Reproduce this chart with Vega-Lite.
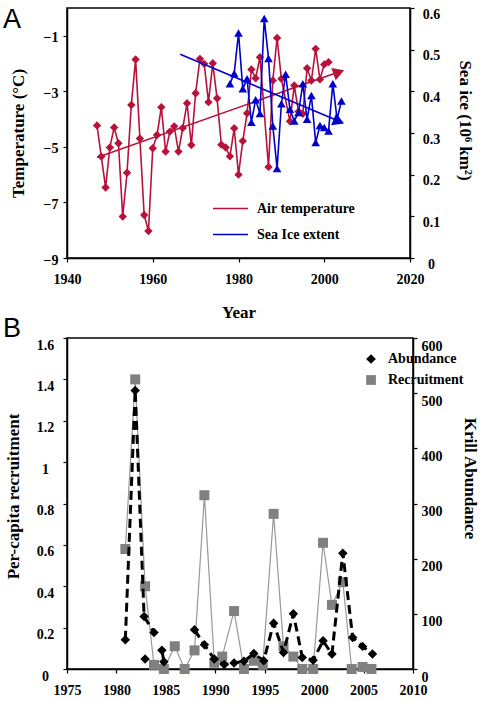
{
  "$schema": "https://vega.github.io/schema/vega-lite/v6.json",
  "padding": {"left": 2, "top": 5, "right": 0, "bottom": 0},
  "background": "white",
  "bounds": "flush",
  "spacing": 80,
  "resolve": {"scale": {"color": "independent", "shape": "independent"}, "legend": {"color": "independent", "shape": "independent"}},
  "config": {
    "view": {"stroke": "black", "strokeWidth": 1.5},
    "font": "Liberation Serif",
    "axis": {
      "labelFont": "Liberation Serif", "labelFontWeight": "bold", "labelFontSize": 14, "labelColor": "black",
      "titleFont": "Liberation Serif", "titleFontWeight": "bold", "titleFontSize": 17, "titleColor": "black",
      "domainColor": "black", "domainWidth": 1.5, "tickColor": "black", "tickWidth": 1.2, "tickSize": 4,
      "grid": false, "labelOverlap": false, "labelBound": false, "labelFlush": false
    },
    "legend": {
      "labelFont": "Liberation Serif", "labelFontWeight": "bold", "labelFontSize": 14, "labelColor": "black",
      "padding": 0
    }
  },
  "datasets": {
    "temp": [
      {"year": 1947, "temp": -4.23}, {"year": 1948, "temp": -5.35}, {"year": 1949, "temp": -6.46},
      {"year": 1950, "temp": -5.02}, {"year": 1951, "temp": -4.30}, {"year": 1952, "temp": -4.87},
      {"year": 1953, "temp": -7.51}, {"year": 1954, "temp": -5.93}, {"year": 1955, "temp": -3.49},
      {"year": 1956, "temp": -1.85}, {"year": 1957, "temp": -4.70}, {"year": 1958, "temp": -7.45},
      {"year": 1959, "temp": -8.03}, {"year": 1960, "temp": -5.05}, {"year": 1961, "temp": -4.57},
      {"year": 1962, "temp": -3.57}, {"year": 1963, "temp": -5.17}, {"year": 1964, "temp": -4.45},
      {"year": 1965, "temp": -4.26}, {"year": 1966, "temp": -5.17}, {"year": 1967, "temp": -4.32},
      {"year": 1968, "temp": -3.43}, {"year": 1969, "temp": -4.93}, {"year": 1970, "temp": -3.07},
      {"year": 1971, "temp": -1.83}, {"year": 1972, "temp": -2.01}, {"year": 1973, "temp": -3.39},
      {"year": 1974, "temp": -1.99}, {"year": 1975, "temp": -3.25}, {"year": 1976, "temp": -4.92},
      {"year": 1977, "temp": -5.02}, {"year": 1978, "temp": -5.34}, {"year": 1979, "temp": -4.33},
      {"year": 1980, "temp": -6.00}, {"year": 1981, "temp": -4.79}, {"year": 1982, "temp": -3.79},
      {"year": 1983, "temp": -2.21}, {"year": 1984, "temp": -2.53}, {"year": 1985, "temp": -1.77},
      {"year": 1987, "temp": -5.72}, {"year": 1988, "temp": -2.61}, {"year": 1989, "temp": -1.08},
      {"year": 1990, "temp": -2.55}, {"year": 1992, "temp": -4.08}, {"year": 1993, "temp": -2.79},
      {"year": 1994, "temp": -3.73}, {"year": 1995, "temp": -3.81}, {"year": 1996, "temp": -2.17},
      {"year": 1997, "temp": -2.61}, {"year": 1998, "temp": -1.47}, {"year": 1999, "temp": -2.57},
      {"year": 2000, "temp": -2.03}, {"year": 2001, "temp": -1.95}
    ],
    "ice": [
      {"year": 1978, "ice": 0.418}, {"year": 1979, "ice": 0.443}, {"year": 1980, "ice": 0.540},
      {"year": 1981, "ice": 0.406}, {"year": 1982, "ice": 0.430}, {"year": 1983, "ice": 0.326},
      {"year": 1984, "ice": 0.380}, {"year": 1985, "ice": 0.347}, {"year": 1986, "ice": 0.575},
      {"year": 1987, "ice": 0.479}, {"year": 1988, "ice": 0.317}, {"year": 1989, "ice": 0.215},
      {"year": 1990, "ice": 0.370}, {"year": 1991, "ice": 0.441}, {"year": 1992, "ice": 0.357},
      {"year": 1993, "ice": 0.329}, {"year": 1994, "ice": 0.349}, {"year": 1995, "ice": 0.418},
      {"year": 1996, "ice": 0.333}, {"year": 1997, "ice": 0.390}, {"year": 1998, "ice": 0.277},
      {"year": 1999, "ice": 0.318}, {"year": 2000, "ice": 0.313}, {"year": 2001, "ice": 0.305},
      {"year": 2002, "ice": 0.418}, {"year": 2003, "ice": 0.333}, {"year": 2004, "ice": 0.377}
    ],
    "trendT": [
      {"year": 1947, "temp": -5.38}, {"year": 2004, "temp": -2.27}
    ],
    "arrowT": [
      {"year": 2003.4, "temp": -2.31}
    ],
    "trendI": [
      {"year": 1966.4, "ice": 0.489}, {"year": 2004, "ice": 0.326}
    ],
    "arrowI": [
      {"year": 2003.4, "ice": 0.328}
    ],
    "recr": [
      {"year": 1980.9, "rec": 0.58}, {"year": 1981.9, "rec": 1.40}, {"year": 1982.9, "rec": 0.40},
      {"year": 1983.8, "rec": 0.02}, {"year": 1984.8, "rec": 0.0}, {"year": 1985.9, "rec": 0.11},
      {"year": 1986.9, "rec": 0.0}, {"year": 1987.9, "rec": 0.09}, {"year": 1988.9, "rec": 0.84},
      {"year": 1989.9, "rec": 0.03}, {"year": 1990.7, "rec": 0.06}, {"year": 1991.9, "rec": 0.28},
      {"year": 1992.9, "rec": 0.0}, {"year": 1993.9, "rec": 0.04}, {"year": 1994.8, "rec": 0.02},
      {"year": 1995.9, "rec": 0.75}, {"year": 1996.9, "rec": 0.11}, {"year": 1997.9, "rec": 0.06},
      {"year": 1998.8, "rec": 0.0}, {"year": 1999.9, "rec": 0.0}, {"year": 2000.9, "rec": 0.61},
      {"year": 2001.8, "rec": 0.31}, {"year": 2002.9, "rec": 0.42}, {"year": 2003.8, "rec": 0.0},
      {"year": 2004.9, "rec": 0.01}, {"year": 2005.8, "rec": 0.0}
    ],
    "abund": [
      {"year": 1980.9, "ab": 53, "seg": 1}, {"year": 1981.9, "ab": 505, "seg": 1},
      {"year": 1982.8, "ab": 95, "seg": 1}, {"year": 1983.8, "ab": 66, "seg": 1},
      {"year": 1982.9, "ab": 18, "seg": 2},
      {"year": 1984.6, "ab": 34, "seg": 3}, {"year": 1984.8, "ab": 13, "seg": 3},
      {"year": 1987.9, "ab": 71, "seg": 4}, {"year": 1988.9, "ab": 44, "seg": 4},
      {"year": 1989.9, "ab": 18, "seg": 4}, {"year": 1990.9, "ab": 8, "seg": 4},
      {"year": 1991.9, "ab": 11, "seg": 4}, {"year": 1992.9, "ab": 14, "seg": 4},
      {"year": 1993.9, "ab": 28, "seg": 4}, {"year": 1994.9, "ab": 15, "seg": 4},
      {"year": 1995.9, "ab": 83, "seg": 4}, {"year": 1996.9, "ab": 30, "seg": 4},
      {"year": 1997.9, "ab": 100, "seg": 4}, {"year": 1998.8, "ab": 21, "seg": 4},
      {"year": 1999.9, "ab": 16, "seg": 4}, {"year": 2000.9, "ab": 51, "seg": 4},
      {"year": 2001.8, "ab": 27, "seg": 4}, {"year": 2002.9, "ab": 210, "seg": 4},
      {"year": 2003.9, "ab": 57, "seg": 4}, {"year": 2004.9, "ab": 41, "seg": 4},
      {"year": 2005.9, "ab": 27, "seg": 4}
    ]
  },
  "vconcat": [
    {
      "width": 343,
      "height": 250,
      "title": {"text": "A", "anchor": "start", "frame": "group", "orient": "top", "font": "Liberation Sans", "fontSize": 27, "fontWeight": "normal", "color": "black", "dx": -64, "dy": 27, "offset": 0},
      "layer": [
        {
          "layer": [
            {
              "data": {"name": "trendT"},
              "mark": {"type": "line", "color": "#B8123A", "strokeWidth": 1.6},
              "encoding": {
                "x": {"field": "year", "type": "quantitative", "scale": {"domain": [1940, 2020], "nice": false},
                      "axis": {"values": [1940, 1960, 1980, 2000, 2020], "format": "d", "title": "Year", "labelPadding": 10, "titlePadding": 18}},
                "y": {"field": "temp", "type": "quantitative", "scale": {"domain": [-9, 0], "nice": false, "zero": false},
                      "axis": {"orient": "left", "values": [-9, -8, -7, -6, -5, -4, -3, -2, -1, 0], "labelExpr": "datum.value % 2 != 0 ? datum.label : ''", "title": "Temperature (°C)", "labelPadding": 5, "labelOffset": 2, "titlePadding": 16}}
              }
            },
            {
              "data": {"name": "arrowT"},
              "mark": {"type": "point", "shape": "triangle-right", "filled": true, "opacity": 1, "color": "#B8123A", "size": 170, "angle": -19.3},
              "encoding": {
                "x": {"field": "year", "type": "quantitative"},
                "y": {"field": "temp", "type": "quantitative"}
              }
            },
            {
              "data": {"name": "temp"},
              "mark": {"type": "line", "strokeWidth": 1.6},
              "encoding": {
                "x": {"field": "year", "type": "quantitative"},
                "y": {"field": "temp", "type": "quantitative"},
                "color": {"datum": "Air temperature", "scale": {"domain": ["Air temperature", "Sea Ice extent"], "range": ["#B8123A", "#0000CC"]},
                          "legend": {"orient": "none", "legendX": 145, "legendY": 182, "title": null, "symbolType": "stroke", "symbolSize": 1225, "symbolStrokeWidth": 1.6, "labelOffset": 8, "rowPadding": -30}}
              }
            },
            {
              "data": {"name": "temp"},
              "mark": {"type": "point", "shape": "diamond", "filled": true, "opacity": 1, "color": "#B8123A", "size": 70},
              "encoding": {
                "x": {"field": "year", "type": "quantitative"},
                "y": {"field": "temp", "type": "quantitative"}
              }
            }
          ]
        },
        {
          "layer": [
            {
              "data": {"name": "trendI"},
              "mark": {"type": "line", "color": "#0000CC", "strokeWidth": 1.6},
              "encoding": {
                "x": {"field": "year", "type": "quantitative"},
                "y": {"field": "ice", "type": "quantitative", "scale": {"domain": [0, 0.6], "nice": false},
                      "axis": {"orient": "right", "values": [0, 0.1, 0.2, 0.3, 0.4, 0.5, 0.6], "format": ".1~f", "title": "Sea ice (10⁶ km²)", "titleAngle": 90, "titleY": 112, "labelAlign": "center", "labelPadding": 17, "labelOffset": 6, "titlePadding": 16}}
              }
            },
            {
              "data": {"name": "arrowI"},
              "mark": {"type": "point", "shape": "triangle-right", "filled": true, "opacity": 1, "color": "#0000CC", "size": 170, "angle": 22.9},
              "encoding": {
                "x": {"field": "year", "type": "quantitative"},
                "y": {"field": "ice", "type": "quantitative"}
              }
            },
            {
              "data": {"name": "ice"},
              "mark": {"type": "line", "strokeWidth": 1.6},
              "encoding": {
                "x": {"field": "year", "type": "quantitative"},
                "y": {"field": "ice", "type": "quantitative"},
                "color": {"datum": "Sea Ice extent"}
              }
            },
            {
              "data": {"name": "ice"},
              "mark": {"type": "point", "shape": "triangle-up", "filled": true, "opacity": 1, "color": "#0000CC", "size": 75},
              "encoding": {
                "x": {"field": "year", "type": "quantitative"},
                "y": {"field": "ice", "type": "quantitative"}
              }
            }
          ]
        }
      ],
      "resolve": {"scale": {"y": "independent"}}
    },
    {
      "width": 346,
      "height": 331,
      "title": {"text": "B", "anchor": "start", "frame": "group", "orient": "top", "font": "Liberation Sans", "fontSize": 27, "fontWeight": "normal", "color": "black", "dx": -64, "dy": 6, "offset": 0},
      "layer": [
        {
          "data": {"name": "recr"},
          "layer": [
            {
              "mark": {"type": "line", "color": "#999999", "strokeWidth": 1.2},
              "encoding": {
                "x": {"field": "year", "type": "quantitative", "scale": {"domain": [1975, 2010], "nice": false},
                      "axis": {"values": [1975, 1980, 1985, 1990, 1995, 2000, 2005, 2010], "format": "d", "title": null, "labelPadding": 10}},
                "y": {"field": "rec", "type": "quantitative", "scale": {"domain": [0, 1.6], "nice": false},
                      "axis": {"orient": "left", "values": [0, 0.2, 0.4, 0.6, 0.8, 1, 1.2, 1.4, 1.6], "format": "~g", "title": "Per-capita recruitment", "titleY": 158, "labelAlign": "center", "labelPadding": 18, "labelOffset": 7, "titlePadding": 14}}
              }
            },
            {
              "mark": {"type": "point", "filled": true, "opacity": 1},
              "encoding": {
                "x": {"field": "year", "type": "quantitative"},
                "y": {"field": "rec", "type": "quantitative"},
                "color": {"datum": "Recruitment", "scale": {"domain": ["Abundance", "Recruitment"], "range": ["#000000", "#808080"]},
                          "legend": {"orient": "none", "legendX": 297, "legendY": 14, "title": null, "symbolSize": 95, "labelOffset": 10, "rowPadding": 7}},
                "shape": {"datum": "Recruitment", "scale": {"domain": ["Abundance", "Recruitment"], "range": ["diamond", "square"]}},
                "size": {"value": 100}
              }
            }
          ]
        },
        {
          "data": {"name": "abund"},
          "layer": [
            {
              "mark": {"type": "line", "color": "black", "strokeWidth": 3, "strokeDash": [9, 5]},
              "encoding": {
                "x": {"field": "year", "type": "quantitative"},
                "y": {"field": "ab", "type": "quantitative", "scale": {"domain": [0, 600], "nice": false},
                      "axis": {"orient": "right", "values": [0, 100, 200, 300, 400, 500, 600], "title": "Krill Abundance", "titleAngle": 90, "titleY": 140, "labelPadding": 4, "labelOffset": 8, "titlePadding": 18}},
                "detail": {"field": "seg", "type": "nominal"}
              }
            },
            {
              "mark": {"type": "point", "filled": true, "opacity": 1},
              "encoding": {
                "x": {"field": "year", "type": "quantitative"},
                "y": {"field": "ab", "type": "quantitative"},
                "color": {"datum": "Abundance"},
                "shape": {"datum": "Abundance"},
                "size": {"value": 90}
              }
            }
          ]
        }
      ],
      "resolve": {"scale": {"y": "independent"}}
    }
  ]
}
